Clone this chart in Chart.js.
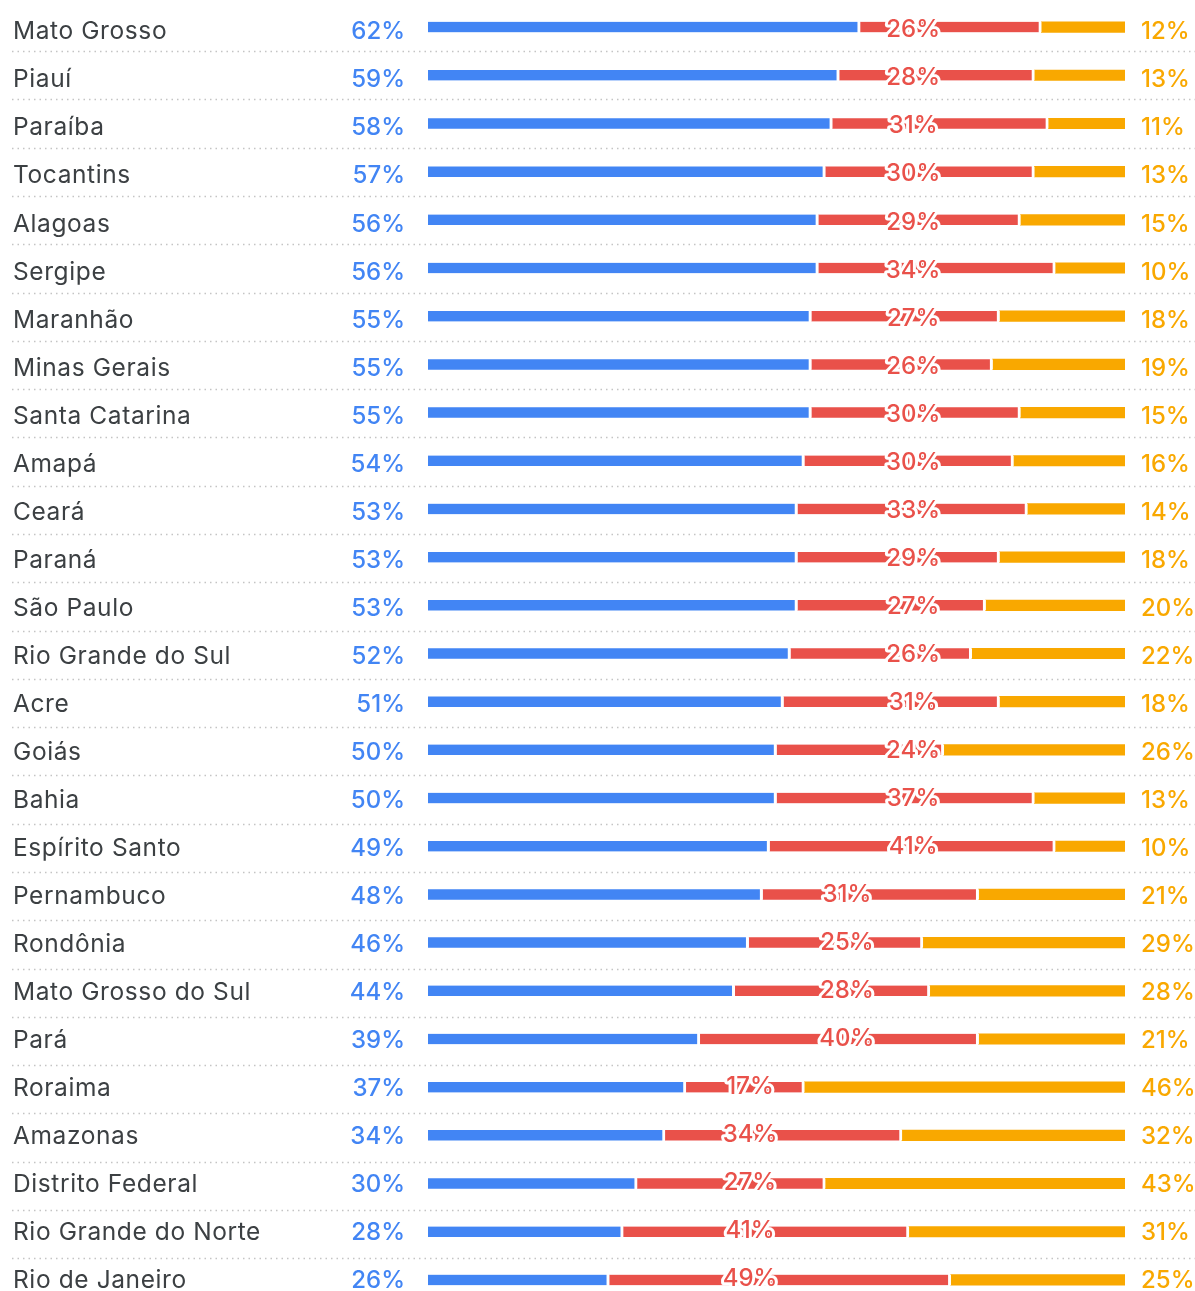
<!DOCTYPE html>
<html>
<head>
<meta charset="utf-8">
<script src="https://cdn.jsdelivr.net/npm/chart.js@4/dist/chart.umd.min.js"></script>
<style>
    html, body { margin: 0; padding: 0; background: #fff; overflow: hidden; }
    #wrap { width: 1195px; height: 1304px; }
</style>
</head>
<body>
<div id="wrap"><canvas id="stateChart" width="1195" height="1304"></canvas></div>
<script>
var states = ['Mato Grosso', 'Piauí', 'Paraíba', 'Tocantins', 'Alagoas', 'Sergipe', 'Maranhão', 'Minas Gerais',
    'Santa Catarina', 'Amapá', 'Ceará', 'Paraná', 'São Paulo', 'Rio Grande do Sul', 'Acre', 'Goiás', 'Bahia',
    'Espírito Santo', 'Pernambuco', 'Rondônia', 'Mato Grosso do Sul', 'Pará', 'Roraima', 'Amazonas',
    'Distrito Federal', 'Rio Grande do Norte', 'Rio de Janeiro'];
var blueValues = [62, 59, 58, 57, 56, 56, 55, 55, 55, 54, 53, 53, 53, 52, 51, 50, 50, 49, 48, 46, 44, 39, 37, 34, 30, 28, 26];
var redValues = [26, 28, 31, 30, 29, 34, 27, 26, 30, 30, 33, 29, 27, 26, 31, 24, 37, 41, 31, 25, 28, 40, 17, 34, 27, 41, 49];
var yellowValues = [12, 13, 11, 13, 15, 10, 18, 19, 15, 16, 14, 18, 20, 22, 18, 26, 13, 10, 21, 29, 28, 21, 46, 32, 43, 31, 25];

(function () {
    "use strict";

    var BLUE = '#4285f4';
    var RED = '#e9514a';
    var YELLOW = '#f9a800';
    var TEXT = '#3c4043';
    var NAME_FONT = '400 24.5px Inter, Roboto, sans-serif';
    var PCT_FONT = '500 24px Inter, Roboto, sans-serif';

    // red labels do not sit in the middle of the red part, they sit in three columns
    function redLabelAt(i) {
        if (i < 18) return 69.6;
        if (i < 22) return 60.1;
        return 46.2;
    }

    // chữ + đường chấm giữa các dòng
    var rowText = {
        id: 'rowText',
        afterDatasetsDraw: function (chart) {
            var ctx = chart.ctx;
            var xs = chart.scales.x;
            var ys = chart.scales.y;
            var step = ys.getPixelForValue(1) - ys.getPixelForValue(0);
            ctx.save();

            // separators
            ctx.strokeStyle = '#c4c4c4';
            ctx.lineWidth = 1.5;
            ctx.setLineDash([1.5, 4]);
            for (var i = 0; i < states.length - 1; i++) {
                var ly = Math.round(ys.getPixelForValue(i) + step / 2 + 0.1 * i) + 0.5;
                ctx.beginPath();
                ctx.moveTo(12, ly);
                ctx.lineTo(1195, ly);
                ctx.stroke();
            }
            ctx.setLineDash([]);

            for (var j = 0; j < states.length; j++) {
                // the text creeps up a little against the bars row by row
                var y = ys.getPixelForValue(j) - 0.15 * j;

                ctx.font = NAME_FONT;
                ctx.letterSpacing = '0.6px';
                ctx.textAlign = 'left';
                ctx.fillStyle = TEXT;
                ctx.fillText(states[j], 13, y + 12.3);
                ctx.letterSpacing = '0px';

                ctx.font = PCT_FONT;
                ctx.textAlign = 'right';
                ctx.fillStyle = BLUE;
                ctx.fillText(blueValues[j] + '%', 405, y + 12.3);

                ctx.textAlign = 'left';
                ctx.fillStyle = YELLOW;
                ctx.fillText(yellowValues[j] + '%', 1141, y + 12.3);

                // red label with white halo
                var rx = xs.getPixelForValue(redLabelAt(j));
                ctx.textAlign = 'center';
                ctx.lineJoin = 'round';
                ctx.lineWidth = 6;
                ctx.strokeStyle = '#fff';
                ctx.strokeText(redValues[j] + '%', rx, y + 10.3);
                ctx.fillStyle = RED;
                ctx.fillText(redValues[j] + '%', rx, y + 10.3);
            }
            ctx.restore();
        }
    };

    function makeSet(values, color, gap) {
        return {
            data: values,
            backgroundColor: color,
            borderColor: '#fff',
            borderWidth: { top: 0, bottom: 0, left: 0, right: gap },
            borderSkipped: false,
            barThickness: 10.5
        };
    }

    var ctx = document.getElementById('stateChart').getContext('2d');
    new Chart(ctx, {
        type: 'bar',
        data: {
            labels: states,
            datasets: [
                makeSet(blueValues, BLUE, 3),
                makeSet(redValues, RED, 3),
                makeSet(yellowValues, YELLOW, 0)
            ]
        },
        options: {
            indexAxis: 'y',
            responsive: false,
            animation: false,
            devicePixelRatio: 1,
            layout: { padding: { left: 428, right: 70, top: 3, bottom: 0 } },
            scales: {
                x: { stacked: true, min: 0, max: 100, display: false },
                y: { stacked: true, display: false }
            },
            plugins: {
                legend: { display: false },
                tooltip: { enabled: false }
            }
        },
        plugins: [rowText]
    });
})();
</script>
</body>
</html>
